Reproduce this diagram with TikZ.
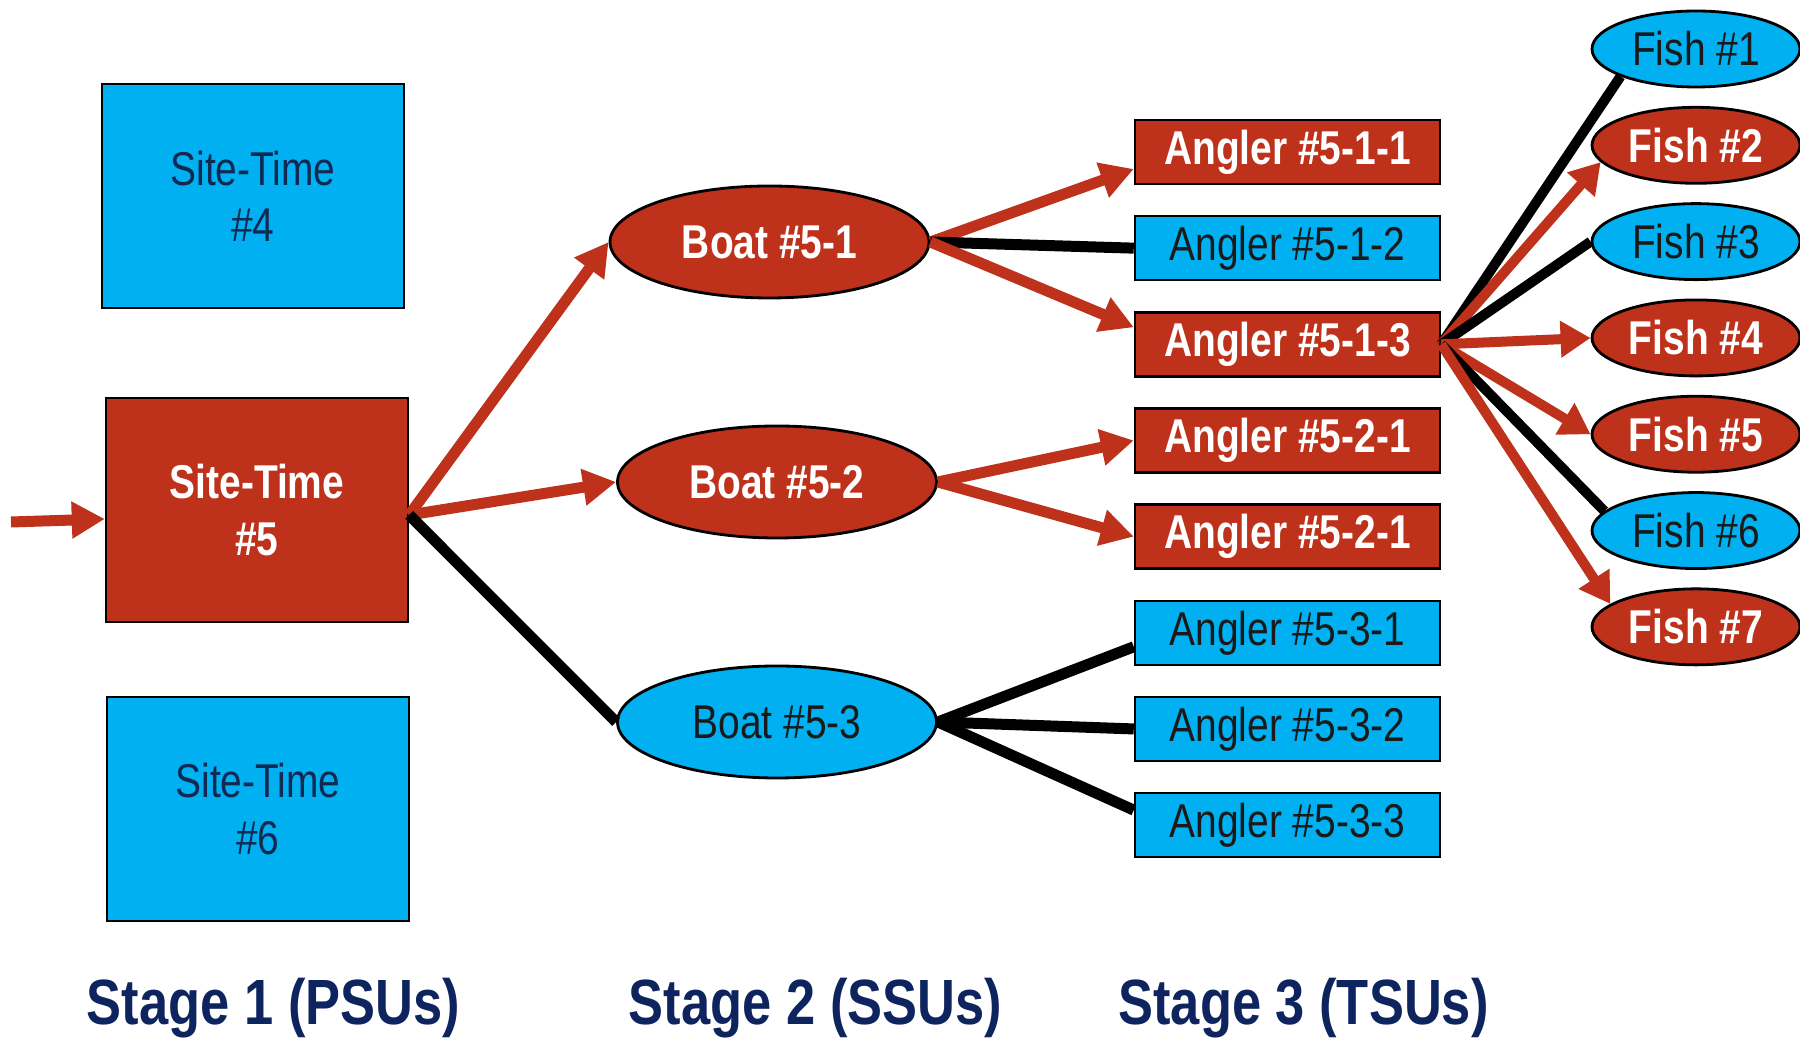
\documentclass[tikz,border=0pt]{standalone}
\usepackage{fontspec}
\setmainfont{Liberation Sans}[FakeStretch=0.82]
\usepackage{tikz}
\usetikzlibrary{positioning,shapes.geometric,arrows.meta}
\definecolor{selred}{RGB}{190,49,26}
\definecolor{skipblue}{RGB}{0,176,240}
\definecolor{sitenavy}{RGB}{16,42,84}
\definecolor{inkdark}{RGB}{26,26,26}
\definecolor{stagenavy}{RGB}{14,36,94}
\newcommand{\nodefont}{\fontsize{13.5}{16}\selectfont}
\tikzstyle{site} = [rectangle, draw, line width=0.7pt, %
   minimum width=3.02cm, minimum height=2.24cm, align=center, inner sep=0pt]
\tikzstyle{angler} = [rectangle, draw, line width=0.7pt, %
   minimum width=3.05cm, minimum height=0.64cm, inner sep=0pt]
\tikzstyle{boat} = [ellipse, draw, line width=0.8pt, %
   minimum width=3.19cm, minimum height=1.12cm, inner sep=0pt]
\tikzstyle{fish} = [ellipse, draw, line width=0.8pt, %
   minimum width=2.08cm, minimum height=0.76cm, inner sep=0pt]
\tikzstyle{picked} = [fill=selred, text=white, font=\nodefont\bfseries]
\tikzstyle{skipped} = [fill=skipblue, text=inkdark, font=\nodefont]
\tikzstyle{stage} = [anchor=base, text=stagenavy, font=\fontsize{18.2}{20}\selectfont\bfseries]
\tikzstyle{line} = [draw, selred, line width=0.11cm, -{Triangle[length=0.33cm,width=0.35cm]}]
\tikzstyle{link} = [draw, black, line width=0.11cm]
\tikzstyle{fline} = [draw, selred, line width=0.1cm, -{Triangle[length=0.3cm,width=0.35cm]}]
\tikzstyle{flink} = [draw, black, line width=0.1cm]

\begin{document}
\begin{tikzpicture}
   \useasboundingbox (0,0) rectangle (18,10.42);

   % Place nodes
   % STAGE 1 %%%%%%%%%%%%%%%%%%%%%%%%%%%%%%%%%%%%%%%%%%%%%%%%%%%%%%%%%%
   \node[site, skipped, text=sitenavy] (st4) at (2.53,8.46) {Site-Time\\\#4};
   \node[site, picked] (st5) at (2.57,5.32) {Site-Time\\\#5};
   \node[site, skipped, text=sitenavy] (st6) at (2.58,2.33) {Site-Time\\\#6};
   \coordinate (entry) at (0.11,5.20);

   % STAGE 2 %%%%%%%%%%%%%%%%%%%%%%%%%%%%%%%%%%%%%%%%%%%%%%%%%%%%%%%%%%
   \node[boat, picked] (b51) at (7.695,8.00) {Boat \#5-1};
   \node[boat, picked] (b52) at (7.77,5.60) {Boat \#5-2};
   \node[boat, skipped] (b53) at (7.77,3.20) {Boat \#5-3};

   % STAGE 3 %%%%%%%%%%%%%%%%%%%%%%%%%%%%%%%%%%%%%%%%%%%%%%%%%%%%%%%%%%
   \node[angler, picked] (a511) at (12.875,8.90) {Angler \#5-1-1};
   \node[angler, skipped, below=0.297 of a511] (a512) {Angler \#5-1-2};
   \node[angler, picked, below=0.297 of a512] (a513) {Angler \#5-1-3};
   \node[angler, picked, below=0.297 of a513] (a521) {Angler \#5-2-1};
   \node[angler, picked, below=0.297 of a521] (a522) {Angler \#5-2-1};
   \node[angler, skipped, below=0.297 of a522] (a531) {Angler \#5-3-1};
   \node[angler, skipped, below=0.297 of a531] (a532) {Angler \#5-3-2};
   \node[angler, skipped, below=0.297 of a532] (a533) {Angler \#5-3-3};

   % FISH %%%%%%%%%%%%%%%%%%%%%%%%%%%%%%%%%%%%%%%%%%%%%%%%%%%%%%%%%%%%%
   \node[fish, skipped] (f1) at (16.96,9.93) {Fish \#1};
   \node[fish, picked, below=0.175 of f1] (f2) {Fish \#2};
   \node[fish, skipped, below=0.175 of f2] (f3) {Fish \#3};
   \node[fish, picked, below=0.175 of f3] (f4) {Fish \#4};
   \node[fish, picked, below=0.175 of f4] (f5) {Fish \#5};
   \node[fish, skipped, below=0.175 of f5] (f6) {Fish \#6};
   \node[fish, picked, below=0.175 of f6] (f7) {Fish \#7};

   % Labels
   \node[stage] (lab1) at (2.735,0.17) {Stage 1 (PSUs)};
   \node[stage] (lab2) at (8.155,0.17) {Stage 2 (SSUs)};
   \node[stage] (lab3) at (13.035,0.17) {Stage 3 (TSUs)};

   % Draw edges
   \path [line] (entry) -- ([yshift=-0.09cm]st5.west);
   \path [line] ([yshift=-0.05cm]st5.east) -- (b51.west);
   \path [line] ([yshift=-0.05cm]st5.east) -- (b52.west);
   \path [link] ([yshift=-0.05cm]st5.east) -- (b53.west);

   \path [line] (b51.east) -- ([yshift=-0.17cm]a511.west);
   \path [link] (b51.east) -- (a512.west);
   \path [line] (b51.east) -- ([yshift=0.17cm]a513.west);
   \path [line] (b52.east) -- (a521.west);
   \path [line] (b52.east) -- (a522.west);
   \path [link] (b53.east) -- ([yshift=-0.14cm]a531.west);
   \path [link] (b53.east) -- (a532.west);
   \path [link] (b53.east) -- ([yshift=0.15cm]a533.west);

   \path [flink] (a513.east) -- (f1.200);
   \path [fline] (a513.east) -- (f2.190);
   \path [flink] (a513.east) -- (f3.west);
   \path [fline] (a513.east) -- (f4.west);
   \path [fline] (a513.east) -- (f5.west);
   \path [flink] (a513.east) -- (f6.168);
   \path [fline] (a513.east) -- (f7.165);

\end{tikzpicture}
\end{document}
